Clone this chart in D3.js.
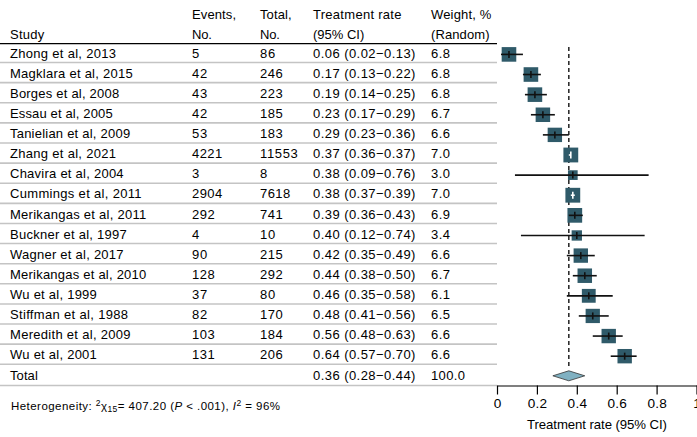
<!DOCTYPE html>
<html><head><meta charset="utf-8">
<script src="https://cdn.jsdelivr.net/npm/d3@7"></script>
<style>
html,body{margin:0;padding:0;background:#fff;}
svg{display:block;font-family:"Liberation Sans",Arial,sans-serif;}
</style></head>
<body><svg id="c" width="697" height="437"></svg>
<script>
const studies = ["Zhong et al, 2013","Magklara et al, 2015","Borges et al, 2008","Essau et al, 2005","Tanielian et al, 2009","Zhang et al, 2021","Chavira et al, 2004","Cummings et al, 2011","Merikangas et al, 2011","Buckner et al, 1997","Wagner et al, 2017","Merikangas et al, 2010","Wu et al, 1999","Stiffman et al, 1988","Meredith et al, 2009","Wu et al, 2001"];
const events  = [5,42,43,42,53,4221,3,2904,292,4,90,128,37,82,103,131];
const totals  = [86,246,223,185,183,11553,8,7618,741,10,215,292,80,170,184,206];
const rates   = [0.06,0.17,0.19,0.23,0.29,0.37,0.38,0.38,0.39,0.40,0.42,0.44,0.46,0.48,0.56,0.64];
const lows    = [0.02,0.13,0.14,0.17,0.23,0.36,0.09,0.37,0.36,0.12,0.35,0.38,0.35,0.41,0.48,0.57];
const highs   = [0.13,0.22,0.25,0.29,0.36,0.37,0.76,0.39,0.43,0.74,0.49,0.50,0.58,0.56,0.63,0.70];
const weights = [6.8,6.8,6.8,6.7,6.6,7.0,3.0,7.0,6.9,3.4,6.6,6.7,6.1,6.5,6.6,6.6];
const pooled  = {rate:0.36, lo:0.28, hi:0.44, weight:100.0};
const xTicks  = [0,0.2,0.4,0.6,0.8,1];
const tickLabels = ["0","0.2","0.4","0.6","0.8","1"];

const svg = d3.select("#c");
const x = d3.scaleLinear().domain([0,1]).range([497,696.5]);
const y = d3.scaleLinear().domain([0,16]).range([54.4,376.3]);
const colX = {study:10, ev:192, tot:260, rate:313, wt:431};
const tableRight = 497;

// Arial-like glyphs spread to wider metrics (as in the reference)
function txt(g, tx, ty, str, opts={}){
  const wfs = opts.wfs || 11.9, fs = opts.fs || 13;
  const t = g.append("text").attr("x",tx).attr("y",ty).text(str).attr("fill","#000")
    .attr("font-family","DejaVu Sans").attr("font-size",wfs);
  if(opts.anchor) t.attr("text-anchor",opts.anchor);
  const w = t.node().getComputedTextLength();
  t.attr("font-family","Liberation Sans, Arial, sans-serif").attr("font-size",fs)
   .attr("textLength",w).attr("lengthAdjust","spacing");
  return t;
}

// header
const hdr = svg.append("g");
[[colX.ev,19,"Events,"],[colX.tot,19,"Total,"],[colX.rate,19,"Treatment rate"],[colX.wt,19,"Weight, %"],
 [colX.study,38.5,"Study"],[colX.ev,38.5,"No."],[colX.tot,38.5,"No."],[colX.rate,38.5,"(95% CI)"],[colX.wt,38.5,"(Random)"]]
 .forEach(d=>txt(hdr,d[0],d[1],d[2]));
svg.append("line").attr("x1",0).attr("x2",tableRight).attr("y1",43.7).attr("y2",43.7).attr("stroke","#000").attr("stroke-width",1.2);

// separators
const sepYs = d3.range(17).map(i=> i<16 ? y(i)+8.1 : 385.5);
svg.append("g").selectAll("line").data(sepYs).join("line")
  .attr("x1",0).attr("x2",tableRight).attr("y1",d=>d).attr("y2",d=>d)
  .attr("stroke","#c4c4c4").attr("stroke-width",1.6);

const fmt = v=>v.toFixed(2);
const rows = svg.append("g");
studies.forEach((s,i)=>{
  const by = y(i)+3.2;
  txt(rows,colX.study,by,s);
  txt(rows,colX.ev,by,String(events[i]));
  txt(rows,colX.tot,by,String(totals[i]));
  txt(rows,colX.rate,by,`${fmt(rates[i])} (${fmt(lows[i])}\u2212${fmt(highs[i])})`);
  txt(rows,colX.wt,by,weights[i].toFixed(1));
});
const ty = y(16)+3.2;
txt(rows,colX.study,ty,"Total");
txt(rows,colX.rate,ty,`${fmt(pooled.rate)} (${fmt(pooled.lo)}\u2212${fmt(pooled.hi)})`);
txt(rows,colX.wt,ty,pooled.weight.toFixed(1));

// dashed pooled line
svg.append("line").attr("x1",x(pooled.rate)).attr("x2",x(pooled.rate)).attr("y1",47).attr("y2",369)
  .attr("stroke","#222").attr("stroke-width",1.5).attr("stroke-dasharray","4,3");

// forest marks
const fg = svg.append("g");
studies.forEach((s,i)=>{
  const cy = y(i), cx = x(rates[i]);
  const side = 5.6*Math.sqrt(weights[i]);
  const inside = (x(lows[i]) >= cx-side/2) && (x(highs[i]) <= cx+side/2);
  const col = inside ? "#fff" : "#111";
  fg.append("rect").attr("x",cx-side/2).attr("y",cy-side/2).attr("width",side).attr("height",side).attr("fill","#2f5a69");
  fg.append("line").attr("x1",x(lows[i])).attr("x2",x(highs[i])).attr("y1",cy).attr("y2",cy).attr("stroke",col).attr("stroke-width",1.6);
  fg.append("line").attr("x1",cx).attr("x2",cx).attr("y1",cy-3.5).attr("y2",cy+3.5).attr("stroke",col).attr("stroke-width",1.6);
});
// diamond
const dy = y(16)-0.5;
fg.append("path").attr("d",`M${x(pooled.lo)},${dy} L${x(pooled.rate)},${dy-5} L${x(pooled.hi)},${dy} L${x(pooled.rate)},${dy+5} Z`)
  .attr("fill","#80b1c2").attr("stroke","#333").attr("stroke-width",0.8);

// axis
const axis = d3.axisBottom(x).tickValues(xTicks).tickFormat(()=>"").tickSize(9).tickSizeOuter(0);
const ag = svg.append("g").attr("transform","translate(0,385.5)").call(axis);
ag.select(".domain").attr("stroke","#000").attr("stroke-width",1.2);
ag.selectAll(".tick line").attr("stroke","#000").attr("stroke-width",1.2);
ag.selectAll(".tick").each(function(d,i){
  txt(d3.select(this),0,22,tickLabels[i],{anchor:"middle",wfs:12.2,fs:13.6});
});
txt(svg,597,428.5,"Treatment rate (95% CI)",{anchor:"middle",wfs:11.6,fs:13.2});

// heterogeneity
const ht = svg.append("text").attr("x",11).attr("y",410).attr("font-size",11.5).attr("fill","#000")
  .attr("textLength",269).attr("lengthAdjust","spacing");
ht.append("tspan").text("Heterogeneity:  ");
ht.append("tspan").attr("font-size",8.5).attr("dy",-4).text("2");
ht.append("tspan").attr("dy",4).text("\u03c7");
ht.append("tspan").attr("font-size",8.5).attr("dy",2).text("15");
ht.append("tspan").attr("dy",-2).text("= 407.20 (");
ht.append("tspan").attr("font-style","italic").text("P");
ht.append("tspan").text(" < .001), ");
ht.append("tspan").attr("font-style","italic").text("I");
ht.append("tspan").attr("font-size",8.5).attr("dy",-4).text("2");
ht.append("tspan").attr("dy",4).text(" = 96%");
</script></body></html>
